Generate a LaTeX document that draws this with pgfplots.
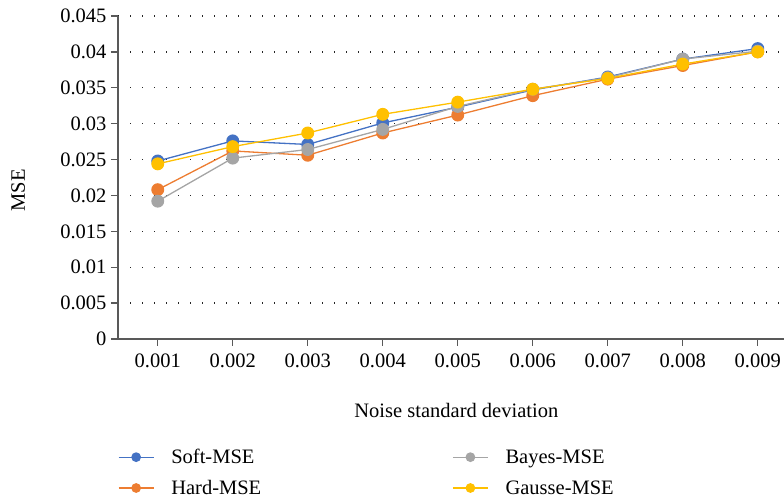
\documentclass[border=0pt]{standalone}
\usepackage{pgfplots}
\pgfplotsset{compat=1.18}
\usepackage{fontspec}
\setmainfont{Liberation Serif}

\definecolor{softc}{HTML}{4472C4}
\definecolor{hardc}{HTML}{ED7D31}
\definecolor{bayesc}{HTML}{A5A5A5}
\definecolor{gaussc}{HTML}{FFC000}
\definecolor{axisc}{HTML}{595959}

% x = category index (0 -> 0.001, ..., 8 -> 0.009)
\pgfplotstableread{
x soft hard bayes gauss
0 0.0248 0.0208 0.0192 0.0244
1 0.0276 0.0262 0.0252 0.0268
2 0.0271 0.0256 0.0264 0.0287
3 0.0301 0.0287 0.0292 0.0313
4 0.0323 0.0312 0.0324 0.0330
5 0.0347 0.0339 0.0348 0.0348
6 0.0365 0.0362 0.0364 0.0363
7 0.0390 0.0381 0.0390 0.0383
8 0.04046 0.0400 0.0401 0.0400
}\msedata

\begin{document}
\begin{tikzpicture}
\path[use as bounding box] (0,0) rectangle (784pt,502pt);
\begin{axis}[
  at={(118pt,163pt)}, anchor=south west,
  scale only axis, width=666pt, height=323pt,
  font=\fontsize{20.5pt}{24pt}\selectfont,
  xmin=-0.53, xmax=8.35, ymin=0, ymax=0.045,
  xtick={0,...,8},
  xticklabels={0.001,0.002,0.003,0.004,0.005,0.006,0.007,0.008,0.009},
  ytick={0,0.005,0.01,0.015,0.02,0.025,0.03,0.035,0.04,0.045},
  yticklabels={0,0.005,0.01,0.015,0.02,0.025,0.03,0.035,0.04,0.045},
  scaled y ticks=false,
  axis x line*=bottom, axis y line*=left,
  axis line style={-, axisc, line width=1.6pt},
  tick align=outside, major tick length=7pt,
  tick style={axisc, line width=1.3pt},
  xtick pos=bottom, ytick pos=left,
  ymajorgrids,
  grid style={black!85, line width=1.3pt, dash pattern=on 1.3pt off 10.7pt},
  yticklabel style={xshift=-1pt},
  xticklabel style={yshift=-4pt},
  xlabel={Noise standard deviation},
  xlabel style={at={(axis description cs:0.508,-0.22)}, anchor=center},
  ylabel={MSE},
  ylabel style={at={(axis description cs:-0.150,0.46)}, anchor=center},
  every axis plot/.append style={line width=1.3pt, mark=*, mark size=5.8pt},
  legend image code/.code={
    \draw[#1, mark size=4.2pt, mark repeat=2, mark phase=2]
      plot coordinates {(0pt,0pt) (17.5pt,0pt) (35pt,0pt)};
  },
  transpose legend,
  legend columns=2,
  legend cell align=left,
  legend style={
    at={(axis description cs:0,-0.335)}, anchor=north west,
    draw=none, fill=none, inner sep=0pt, outer sep=0pt,
    font=\fontsize{20.5pt}{24pt}\selectfont,
    row sep=11pt,
    /tikz/every odd column/.append style={column sep=15pt},
    /tikz/every even column/.append style={column sep=189pt},
  },
]
\addplot[softc, mark options={fill=softc, draw=softc}] table[x=x, y=soft] {\msedata};
\addlegendentry{Soft-MSE}
\addplot[hardc, mark options={fill=hardc, draw=hardc}] table[x=x, y=hard] {\msedata};
\addlegendentry{Hard-MSE}
\addplot[bayesc, mark options={fill=bayesc, draw=bayesc}] table[x=x, y=bayes] {\msedata};
\addlegendentry{Bayes-MSE}
\addplot[gaussc, mark options={fill=gaussc, draw=gaussc}] table[x=x, y=gauss] {\msedata};
\addlegendentry{Gausse-MSE}
\end{axis}
\end{tikzpicture}
\end{document}
